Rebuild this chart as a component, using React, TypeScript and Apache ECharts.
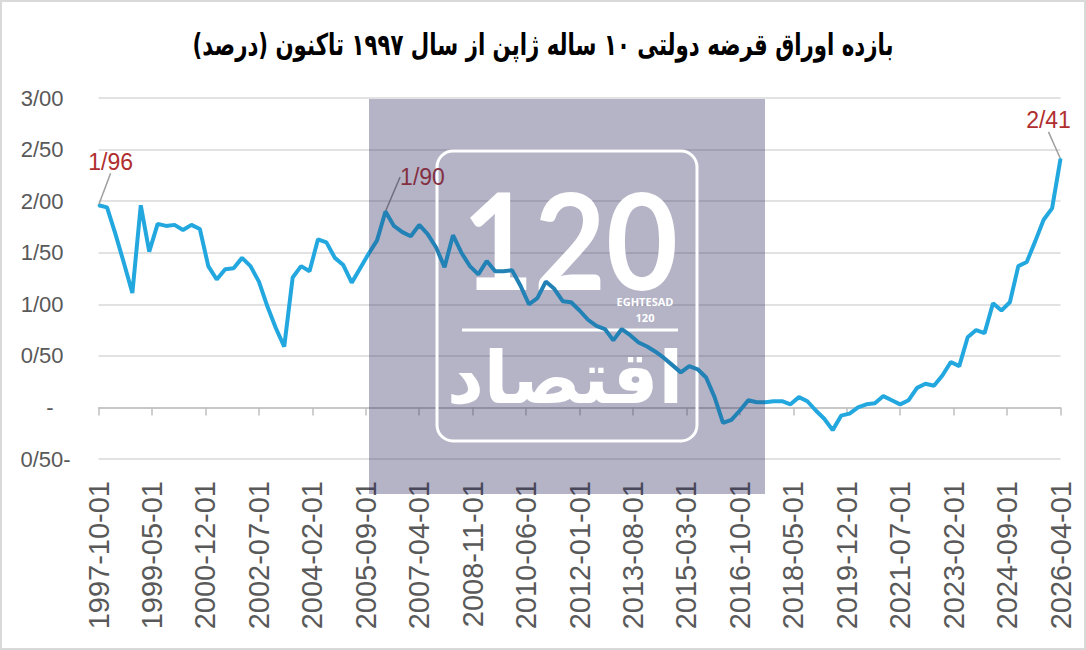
import React, { useEffect, useRef } from "react";
import * as echarts from "echarts";

const TITLE = "بازده اوراق قرضه دولتی ۱۰ ساله ژاپن از سال ۱۹۹۷ تاکنون (درصد)";

// Monthly category axis from 1997-10 to 2026-04
const START_YEAR = 1997;
const START_MONTH = 10;
const END_YEAR = 2026;
const END_MONTH = 4;

// Quarterly 10y JGB yield (%), 1997-10 ... 2026-04
const quarterlyYield = [
  1.96, 1.94, 1.68, 1.40, 1.11, 1.96, 1.51, 1.78, 1.76, 1.77,
  1.72, 1.77, 1.73, 1.37, 1.24, 1.34, 1.35, 1.45, 1.37, 1.22,
  0.98, 0.77, 0.59, 1.26, 1.37, 1.32, 1.63, 1.60, 1.45, 1.38,
  1.21, 1.35, 1.49, 1.62, 1.90, 1.76, 1.70, 1.66, 1.77, 1.68,
  1.55, 1.36, 1.67, 1.50, 1.37, 1.29, 1.42, 1.32, 1.32, 1.33,
  1.18, 1.00, 1.06, 1.22, 1.15, 1.03, 1.02, 0.94, 0.85, 0.79,
  0.76, 0.65, 0.76, 0.70, 0.63, 0.59, 0.54, 0.48, 0.41, 0.34,
  0.40, 0.37, 0.29, 0.10, -0.15, -0.12, -0.03, 0.07, 0.05, 0.05,
  0.06, 0.06, 0.03, 0.10, 0.06, -0.03, -0.11, -0.22, -0.08, -0.06,
  0.00, 0.03, 0.04, 0.11, 0.07, 0.03, 0.07, 0.19, 0.23, 0.21,
  0.31, 0.44, 0.40, 0.68, 0.75, 0.72, 1.01, 0.94, 1.02, 1.37,
  1.41, 1.61, 1.82, 1.93, 2.41,
];

// quarter indices that carry a value label
const annotatedQuarters = [0, 34, 114];

const months: string[] = [];
{
  let y = START_YEAR;
  let m = START_MONTH;
  while (y < END_YEAR || (y === END_YEAR && m <= END_MONTH)) {
    months.push(`${y}-${String(m).padStart(2, "0")}-01`);
    m += 1;
    if (m > 12) {
      m = 1;
      y += 1;
    }
  }
}

const fmt = (v: number) => Math.abs(v).toFixed(2).replace(".", "/");

const LINE_COLOR = "#22a7df";
const LINE_DARK = "#2281b5";
const LABEL_RED = "#b02e2e";
const LABEL_RED_DARK = "#843042";
const AXIS_GREY = "#595959";

// watermark panel (page pixels)
const WM = { x: 369, y: 99, w: 396, h: 395 };

// label offsets (px) for the annotated points
const labelOffsets: Record<number, [number, number]> = {
  0: [12, -26],
  102: [37, -17],
  342: [-12, -21],
};

export default function App() {
  const ref = useRef<HTMLDivElement>(null);

  useEffect(() => {
    if (!ref.current) return;
    const chart = echarts.init(ref.current, undefined, { renderer: "svg" });

    const seriesData = months.map((_, i) => {
      if (i % 3 !== 0) return null;
      const q = i / 3;
      const v = quarterlyYield[q];
      if (annotatedQuarters.includes(q)) {
        const insidePanel = i === 102;
        return {
          value: v,
          symbol: "circle",
          symbolSize: 2,
          itemStyle: { color: insidePanel ? LINE_DARK : LINE_COLOR },
          label: {
            show: true,
            position: "top",
            formatter: () => fmt(v),
            color: insidePanel ? LABEL_RED_DARK : LABEL_RED,
            fontSize: 23,
            fontFamily: "Liberation Sans",
          },
          labelLine: {
            show: true,
            lineStyle: { color: insidePanel ? "#6e6e7e" : "#a0a0a0", width: 1.5 },
          },
        };
      }
      return v;
    });

    const W = 1086;
    const lineGradient = {
      type: "linear",
      x: 0,
      y: 0,
      x2: W,
      y2: 0,
      global: true,
      colorStops: [
        { offset: 0, color: LINE_COLOR },
        { offset: WM.x / W, color: LINE_COLOR },
        { offset: WM.x / W, color: LINE_DARK },
        { offset: (WM.x + WM.w) / W, color: LINE_DARK },
        { offset: (WM.x + WM.w) / W, color: LINE_COLOR },
        { offset: 1, color: LINE_COLOR },
      ],
    };

    chart.setOption({
      animation: false,
      backgroundColor: "#ffffff",
      grid: { left: 98.6, right: 25.5, top: 98, bottom: 191 },
      xAxis: [
        {
          type: "category",
          data: months,
          boundaryGap: false,
          position: "bottom",
          axisLine: { show: false, onZero: false },
          axisTick: { show: false },
          axisLabel: {
            interval: 18,
            rotate: 90,
            margin: 22,
            color: AXIS_GREY,
            fontSize: 29,
            fontFamily: "Liberation Sans",
          },
        },
        {
          type: "category",
          data: months,
          boundaryGap: false,
          position: "top",
          axisLine: { show: true, onZero: true, lineStyle: { color: "#bfbfbf", width: 1.5 } },
          axisTick: {
            show: true,
            inside: true,
            interval: 18,
            length: 8,
            lineStyle: { color: "#bfbfbf", width: 1.5 },
          },
          axisLabel: { show: false },
        },
      ],
      yAxis: {
        type: "value",
        min: -0.5,
        max: 3,
        interval: 0.5,
        axisLine: { show: false },
        axisTick: { show: false },
        splitLine: { lineStyle: { color: "#d9d9d9", width: 1.5 } },
        axisLabel: {
          margin: 28,
          align: "right",
          formatter: (v: number) =>
            v === 0 ? "{z|-}" : v < 0 ? `{n|${fmt(v)}-}` : `{p|${fmt(v)}}`,
          rich: {
            p: { padding: [0, 7, 0, 0], fontSize: 22, color: AXIS_GREY, fontFamily: "Liberation Sans" },
            n: { fontSize: 22, color: AXIS_GREY, fontFamily: "Liberation Sans" },
            z: { padding: [0, 17, 0, 0], fontSize: 22, color: AXIS_GREY, fontFamily: "Liberation Sans" },
          },
        },
      },
      series: [
        {
          type: "line",
          xAxisIndex: 0,
          data: seriesData,
          connectNulls: true,
          showSymbol: true,
          showAllSymbol: true,
          symbol: "none",
          z: 3,
          lineStyle: { color: lineGradient, width: 4 },
          itemStyle: { color: LINE_COLOR },
          labelLayout: (params: any) => {
            const o = labelOffsets[params.dataIndex];
            return o ? { dx: o[0], dy: o[1] } : {};
          },
        },
      ],
      graphic: [
        {
          type: "rect",
          z: 0,
          silent: true,
          shape: { x: 1, y: 1, width: 1084, height: 648 },
          style: { fill: "none", stroke: "#d9d9d9", lineWidth: 2 },
        },
        {
          type: "text",
          z: 5,
          silent: true,
          x: 543,
          y: 45,
          scaleX: 0.71,
          style: {
            text: "\u200F" + TITLE + "\u200F",
            x: 0,
            y: 0,
            align: "center",
            verticalAlign: "middle",
            fontFamily: "DejaVu Sans",
            fontWeight: "bold",
            fontSize: 30,
            fill: "#000000",
          },
        },
        {
          type: "rect",
          z: 1,
          z2: 1,
          silent: true,
          shape: { x: WM.x, y: WM.y, width: WM.w, height: WM.h },
          style: { fill: "rgba(44,41,95,0.35)" },
        },
        {
          type: "rect",
          z: 1,
          z2: 2,
          silent: true,
          shape: { x: 437, y: 151, width: 260, height: 290, r: 16 },
          style: { fill: "none", stroke: "#ffffff", lineWidth: 3 },
        },
        {
          type: "text",
          z: 1,
          z2: 2,
          silent: true,
          x: 570,
          y: 238,
          scaleX: 0.92,
          style: {
            text: "120",
            x: 0,
            y: 0,
            align: "center",
            verticalAlign: "middle",
            fontSize: 135,
            lineHeight: 96,
            fontWeight: "bold",
            fontFamily: "Lato",
            fill: "#ffffff",
          },
        },
        {
          type: "text",
          z: 1,
          z2: 2,
          silent: true,
          style: {
            text: "EGHTESAD",
            x: 645,
            y: 301,
            align: "center",
            verticalAlign: "middle",
            fontSize: 11,
            fontWeight: "bold",
            fontFamily: "Open Sans",
            fill: "#ffffff",
          },
        },
        {
          type: "text",
          z: 1,
          z2: 2,
          silent: true,
          style: {
            text: "120",
            x: 645,
            y: 317,
            align: "center",
            verticalAlign: "middle",
            fontSize: 11,
            fontWeight: "bold",
            fontFamily: "Open Sans",
            fill: "#ffffff",
          },
        },
        {
          type: "line",
          z: 1,
          z2: 2,
          silent: true,
          shape: { x1: 462, y1: 330, x2: 678, y2: 330 },
          style: { stroke: "#ffffff", lineWidth: 3 },
        },
        {
          type: "text",
          z: 1,
          z2: 2,
          silent: true,
          style: {
            text: "اقتصاد",
            x: 565,
            y: 378,
            align: "center",
            verticalAlign: "middle",
            fontSize: 72,
            fontWeight: "bold",
            fontFamily: "DejaVu Sans",
            fill: "#ffffff",
          },
        },
      ],
    });

    return () => chart.dispose();
  }, []);

  return (
    <div
      ref={ref}
      style={{ position: "absolute", left: 0, top: 0, width: 1086, height: 650 }}
    />
  );
}
